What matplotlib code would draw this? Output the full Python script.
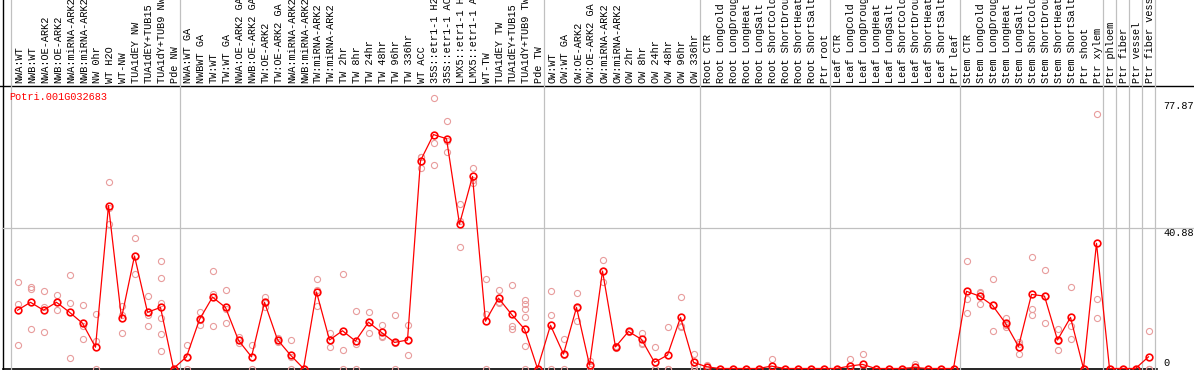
import matplotlib
matplotlib.use('Agg')
import matplotlib.pyplot as plt
import matplotlib.transforms as mtransforms

plt.rcParams['font.family'] = ['Liberation Mono', 'DejaVu Sans Mono']

GENE = 'Potri.001G032683'

# ==================== sample labels (grouped) ====================
nw_labels = ['NWA:WT', 'NWB:WT', 'NWA:OE-ARK2', 'NWB:OE-ARK2', 'NWA:miRNA-ARK2',
             'NWB:miRNA-ARK2', 'NW 0hr', 'WT H2O', 'WT-NW', 'TUA1dEY NW',
             'TUA1dEY+TUB15', 'TUA1dY+TUB9 NW', 'Pde NW']
tw_labels = ['NWA:WT GA', 'NWBWT GA', 'TW:WT', 'TW:WT GA', 'NWA:OE-ARK2 GA',
             'NWB:OE-ARK2 GA', 'TW:OE-ARK2', 'TW:OE-ARK2 GA', 'NWA:miRNA-ARK2',
             'NWB:miRNA-ARK2', 'TW:miRNA-ARK2', 'TW:miRNA-ARK2', 'TW 2hr', 'TW 8hr',
             'TW 24hr', 'TW 48hr', 'TW 96hr', 'TW 336hr', 'WT ACC',
             '35S::etr1-1 H2O', '35S::etr1-1 ACC', 'LMX5::etr1-1 H2O',
             'LMX5::etr1-1 ACC', 'WT-TW', 'TUA1dEY TW', 'TUA1dEY+TUB15',
             'TUA1dY+TUB9 TW', 'Pde TW']
ow_labels = ['OW:WT', 'OW:WT GA', 'OW:OE-ARK2', 'OW:OE-ARK2 GA', 'OW:miRNA-ARK2',
             'OW:miRNA-ARK2', 'OW 2hr', 'OW 8hr', 'OW 24hr', 'OW 48hr', 'OW 96hr',
             'OW 336hr']
root_labels = ['Root CTR', 'Root LongCold', 'Root LongDrought', 'Root LongHeat',
               'Root LongSalt', 'Root ShortCold', 'Root ShortDrought',
               'Root ShortHeat', 'Root ShortSalt', 'Ptr root']
leaf_labels = ['Leaf CTR', 'Leaf LongCold', 'Leaf LongDrought', 'Leaf LongHeat',
               'Leaf LongSalt', 'Leaf ShortCold', 'Leaf ShortDrought',
               'Leaf ShortHeat', 'Leaf ShortSalt', 'Ptr leaf']
stem_labels = ['Stem CTR', 'Stem LongCold', 'Stem LongDrought', 'Stem LongHeat',
               'Stem LongSalt', 'Stem ShortCold', 'Stem ShortDrought',
               'Stem ShortHeat', 'Stem ShortSalt', 'Ptr shoot', 'Ptr xylem']
tissue_labels = ['Ptr phloem', 'Ptr fiber', 'Ptr vessel', 'Ptr fiber vessel']

groups = [nw_labels, tw_labels, ow_labels, root_labels, leaf_labels, stem_labels] + \
         [[t] for t in tissue_labels]
labels = [l for g in groups for l in g]

# ==================== expression values ====================
means = [17.0, 19.3, 17.0, 19.3, 16.4, 13.2, 6.2, 47.5, 14.7, 32.8, 16.4, 17.8, 0.0,
         3.4, 14.3, 20.8, 17.8, 8.2, 3.4, 19.3, 8.4, 3.9, 0.0, 22.3, 8.3, 11.0, 8.0,
         13.5, 10.5, 7.6, 8.3, 60.6, 68.2, 67.0, 42.1, 56.0, 13.8, 20.5, 15.8, 11.5, 0.0,
         12.6, 4.2, 17.8, 1.0, 28.4, 6.3, 10.8, 8.5, 1.8, 3.9, 14.9, 1.8,
         0.5, 0.0, 0.0, 0.0, 0.0, 0.7, 0.0, 0.0, 0.0, 0.0,
         0.0, 0.7, 1.2, 0.0, 0.0, 0.0, 0.3, 0.0, 0.0, 0.0,
         22.5, 21.1, 18.4, 13.2, 6.4, 21.6, 21.1, 8.3, 14.9, 0.0, 36.5,
         0.0, 0.0, 0.0, 3.4]

reps = [[25.1, 18.8, 6.8], [23.8, 23.2, 11.4], [22.5, 18.0, 10.6], [21.4, 19.4, 17.1],
        [27.3, 19.1, 3.1], [18.4, 12.5, 8.6], [15.8, 8.0, 0.0], [54.3, 46.7, 42.1],
        [18.2, 15.6, 10.3], [38.0, 32.8, 27.6], [21.1, 15.6, 12.4],
        [31.3, 26.4, 19.2, 14.7, 10.1, 5.1], [0.0, 0.0, 0.0],
        [6.8, 3.4, 0.0], [16.4, 14.0, 12.6], [28.4, 21.8, 12.4], [22.8, 17.4, 13.3],
        [9.3, 8.2, 7.3], [6.8, 3.4, 0.0], [20.9, 19.0, 18.0], [8.9, 8.4, 7.7],
        [8.3, 3.4, 0.0], [0.0, 0.0, 0.0], [26.0, 22.8, 18.1], [10.3, 8.2, 6.4],
        [27.5, 5.4, 0.0], [16.7, 7.1, 0.0], [16.5, 13.6, 10.3], [12.6, 9.6, 9.3],
        [15.5, 7.3, 0.0], [12.6, 8.4, 3.9], [61.7, 61.7, 58.4], [78.8, 65.7, 59.3],
        [72.1, 66.3, 63.1], [47.9, 43.1, 35.3], [58.4, 55.0, 54.0], [26.2, 15.9, 0.0],
        [22.8, 19.5, 19.2], [24.3, 12.4, 11.4], [20.0, 18.8, 17.4, 15.1, 6.5, 0.0],
        [0.0, 0.0, 0.0],
        [22.5, 15.5, 0.0], [8.6, 4.0, 0.0], [21.9, 17.6, 13.9], [2.3, 0.7, 0.0],
        [31.6, 28.4, 25.1], [6.5, 6.3, 6.1], [11.0, 10.8, 10.6], [10.3, 7.5, 7.1],
        [6.2, 0.0, 0.0], [12.0, 0.0, 0.0], [20.8, 12.4, 12.1], [4.2, 0.8, 0.0],
        [1.0, 0.4, 0.0], [0.0], [0.0], [0.0], [0.0], [2.7, 0.0, 0.0], [0.0], [0.0],
        [0.0], [0.0],
        [0.0], [2.7, 0.0, 0.0], [4.1, 0.0, 0.0], [0.0], [0.0], [0.0], [1.3, 0.0, 0.0],
        [0.0], [0.0], [0.0],
        [31.3, 20.4, 16.1], [22.3, 22.0, 18.8], [26.0, 18.4, 10.8], [14.7, 12.8, 12.1],
        [7.8, 7.1, 4.3], [32.4, 17.4, 15.5], [28.6, 21.1, 13.3], [11.5, 8.1, 5.4],
        [23.7, 12.4, 8.6], [0.0, 0.0, 0.0], [74.1, 20.2, 14.7],
        [0.0], [0.0], [0.0], [10.8, 0.0, 0.0]]

y_marks = [77.87, 40.88, 0]

# ==================== layout (pixels) ====================
W, H = 1194, 370
PLOT_L, PLOT_R = 11, 1155
PLOT_T, PLOT_B = 85, 368.5
GRID = '#c0c0c0'
PINK = '#e89c9c'
FS = 7.4

fig = plt.figure(figsize=(W / 100, H / 100), dpi=100)
fig.patch.set_facecolor('white')

# frame lines drawn in pixel space
ov = fig.add_axes([0, 0, 1, 1])
ov.set_xlim(0, W)
ov.set_ylim(H, 0)
ov.axis('off')
ov.plot([2.5, 2.5], [0, H], color='black', lw=1.0)
ov.plot([0, W], [PLOT_T + 0.5, PLOT_T + 0.5], color='black', lw=1.0)
ov.plot([2.5, 1157], [PLOT_B + 0.5, PLOT_B + 0.5], color='black', lw=1.2)

ax = fig.add_axes([PLOT_L / W, (H - PLOT_B) / H, (PLOT_R - PLOT_L) / W,
                   (PLOT_B - PLOT_T) / H])
n = len(labels)
ax.set_xlim(0, n)
ax.set_ylim(0, (PLOT_B - PLOT_T) / 3.43)
ax.axis('off')

ph = PLOT_B - PLOT_T
# group separators
b = 0
bounds = [0]
for g in groups:
    b += len(g)
    bounds.append(b)
for b in bounds:
    ax.axvline(b, ymin=-(H - PLOT_B) / ph, ymax=PLOT_B / ph, color=GRID, lw=0.9,
               clip_on=False, zorder=0)
ax.axhline(y_marks[1], xmin=-(PLOT_L - 2) / (PLOT_R - PLOT_L),
           xmax=(W - PLOT_L) / (PLOT_R - PLOT_L), color=GRID, lw=0.9,
           clip_on=False, zorder=0)

# column labels
lab_trans = mtransforms.blended_transform_factory(ax.transData, ax.transAxes)
for i, lab in enumerate(labels):
    ax.text(i + 0.62, 1 + 2 / ph, lab, rotation=90, ha='center', va='bottom',
            fontsize=FS, transform=lab_trans, clip_on=False)

# value labels on the right
val_trans = mtransforms.blended_transform_factory(ax.transAxes, ax.transData)
xv = (1163 - PLOT_L) / (PLOT_R - PLOT_L)
for v in y_marks:
    txt = '0' if v == 0 else f'{v:.2f}'
    ax.text(xv, v, txt, ha='left', va='bottom' if v == 0 else 'top',
            fontsize=FS, transform=val_trans, clip_on=False)

# replicates
xs = [i + 0.5 for i in range(n)]
rx = [xs[i] for i, r in enumerate(reps) for _ in r]
ry = [v for r in reps for v in r]
ax.plot(rx, ry, 'o', mfc='none', mec=PINK, ms=4.4, mew=0.8, clip_on=False, zorder=2)

# means
ax.plot(xs, means, '-', color='red', lw=0.9, clip_on=False, zorder=3)
ax.plot(xs, means, 'o', mfc='none', mec='red', ms=4.8, mew=1.2, clip_on=False, zorder=4)

# gene name on top of everything
fig.text(9 / W, 1 - 97 / H, GENE, color='red', fontsize=FS, ha='left', va='center',
         zorder=10)

plt.savefig('out.png', dpi=100)
plt.close()
